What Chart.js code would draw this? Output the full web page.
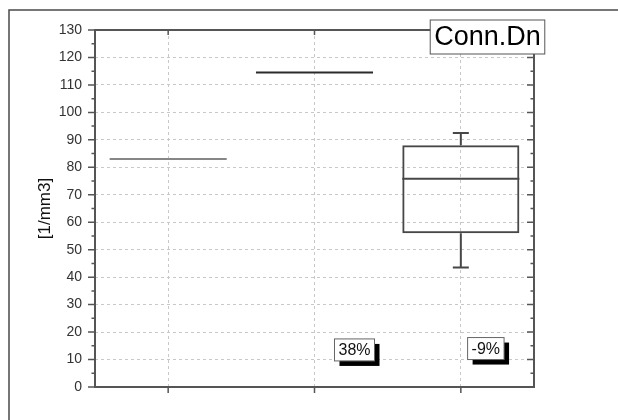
<!DOCTYPE html>
<html>
<head>
<meta charset="utf-8">
<script src="https://cdn.jsdelivr.net/npm/chart.js@4"></script>
<style>
  html, body { margin: 0; padding: 0; background: #fff; }
  #wrap { width: 618px; height: 420px; }
</style>
</head>
<body>
<div id="wrap"><canvas id="boxChart"></canvas></div>
<script>
// data
const categories = ['Group 1', 'Group 2', 'Group 3'];
const whiskerMin = [83, 114.5, 43.5];
const q1 = [83, 114.5, 56];
const median = [83, 114.5, 75.8];
const q3 = [83, 114.5, 88];
const whiskerMax = [83, 114.5, 92.5];
const boxColors = ['#868686', '#2b2b2b', '#474747'];
const yTickValues = [0, 10, 20, 30, 40, 50, 60, 70, 80, 90, 100, 110, 120, 130];
const noteTexts = ['38%', '-9%'];
const noteCategory = [1, 2];
const noteValue = [13.5, 14];
const titleText = 'Conn.Dn';

const FONT = "'Liberation Sans', Arial, sans-serif";

// box plot details: medians, whiskers
const boxPlugin = {
  id: 'boxes',
  afterDatasetsDraw(chart) {
    const ctx = chart.ctx;
    const y = chart.scales.y;
    const meta = chart.getDatasetMeta(0);
    ctx.save();
    ctx.lineWidth = 2;
    meta.data.forEach((bar, i) => {
      ctx.strokeStyle = boxColors[i];
      const left = bar.x - bar.width / 2, right = bar.x + bar.width / 2;
      const ym = y.getPixelForValue(median[i]);
      ctx.beginPath();
      ctx.moveTo(left, ym);
      ctx.lineTo(right, ym);
      ctx.stroke();
      if (whiskerMax[i] > q3[i]) {
        const a = y.getPixelForValue(q3[i]), b = y.getPixelForValue(whiskerMax[i]);
        ctx.beginPath();
        ctx.moveTo(bar.x, a); ctx.lineTo(bar.x, b);
        ctx.moveTo(bar.x - 8, b); ctx.lineTo(bar.x + 8, b);
        ctx.stroke();
      }
      if (whiskerMin[i] < q1[i]) {
        const a = y.getPixelForValue(q1[i]), b = y.getPixelForValue(whiskerMin[i]);
        ctx.beginPath();
        ctx.moveTo(bar.x, a); ctx.lineTo(bar.x, b);
        ctx.moveTo(bar.x - 8, b); ctx.lineTo(bar.x + 8, b);
        ctx.stroke();
      }
    });
    ctx.restore();
  }
};

// frame, tick marks and text boxes
const framePlugin = {
  id: 'frame',
  beforeDraw(chart) {
    const ctx = chart.ctx;
    ctx.save();
    ctx.strokeStyle = '#4a4a4a';
    ctx.lineWidth = 1.5;
    ctx.beginPath();
    ctx.moveTo(9, chart.height);
    ctx.lineTo(9, 10);
    ctx.lineTo(chart.width, 10);
    ctx.stroke();
    ctx.restore();
  },
  afterDraw(chart) {
    const ctx = chart.ctx;
    const a = chart.chartArea;
    const y = chart.scales.y, x = chart.scales.x;
    ctx.save();
    ctx.strokeStyle = '#555';
    ctx.lineWidth = 2;
    ctx.strokeRect(a.left, a.top, a.right - a.left, a.bottom - a.top);
    ctx.lineWidth = 1.5;
    ctx.beginPath();
    yTickValues.forEach((v, i) => {
      const py = y.getPixelForValue(v);
      ctx.moveTo(a.left - 7, py); ctx.lineTo(a.left, py);
      ctx.moveTo(a.right - 7, py); ctx.lineTo(a.right, py);
      if (i < yTickValues.length - 1) {
        const pm = y.getPixelForValue((v + yTickValues[i + 1]) / 2);
        ctx.moveTo(a.left - 3.5, pm); ctx.lineTo(a.left, pm);
        ctx.moveTo(a.right - 3.5, pm); ctx.lineTo(a.right, pm);
      }
    });
    categories.forEach((c, i) => {
      const px = x.getPixelForValue(i);
      ctx.moveTo(px, a.bottom); ctx.lineTo(px, a.bottom + 6);
      ctx.moveTo(px, a.top); ctx.lineTo(px, a.top + 5);
    });
    ctx.stroke();

    // title box
    ctx.font = '27px ' + FONT;
    ctx.textBaseline = 'middle';
    ctx.textAlign = 'center';
    const tw = ctx.measureText(titleText).width;
    const tcx = a.right - 46.5;
    ctx.fillStyle = '#fff';
    ctx.fillRect(tcx - tw / 2 - 4, 20, tw + 8, 34);
    ctx.strokeStyle = '#555';
    ctx.lineWidth = 1;
    ctx.strokeRect(tcx - tw / 2 - 4, 20, tw + 8, 34);
    ctx.fillStyle = '#000';
    ctx.fillText(titleText, tcx, 38);

    // percentage notes
    ctx.font = '16px ' + FONT;
    const offs = [40, 25];
    noteTexts.forEach((t, i) => {
      const cx = x.getPixelForValue(noteCategory[i]) + offs[i];
      const cy = y.getPixelForValue(noteValue[i]);
      const w = ctx.measureText(t).width + 8, h = 22;
      ctx.fillStyle = '#000';
      ctx.fillRect(cx - w / 2 + 5, cy - h / 2 + 5, w, h);
      ctx.fillStyle = '#fff';
      ctx.fillRect(cx - w / 2, cy - h / 2, w, h);
      ctx.strokeStyle = '#666';
      ctx.lineWidth = 1;
      ctx.strokeRect(cx - w / 2, cy - h / 2, w, h);
      ctx.fillStyle = '#111';
      ctx.fillText(t, cx, cy + 1);
    });
    ctx.restore();
  }
};

const ctx = document.getElementById('boxChart').getContext('2d');

new Chart(ctx, {
  type: 'bar',
  data: {
    labels: categories,
    datasets: [{
      label: 'Conn.Dn',
      data: q1.map((v, i) => [v, q3[i]]),
      backgroundColor: 'rgba(255,255,255,0)',
      borderColor: boxColors,
      borderWidth: 2,
      borderSkipped: false,
      barPercentage: 0.8,
      categoryPercentage: 1
    }]
  },
  options: {
    responsive: true,
    maintainAspectRatio: false,
    animation: false,
    layout: { padding: { left: 0, top: 30, right: 84, bottom: 0 } },
    plugins: {
      legend: { display: false },
      tooltip: { enabled: false }
    },
    scales: {
      x: {
        ticks: { display: false },
        grid: { offset: false, color: '#c8c8c8', lineWidth: 1, drawTicks: false },
        border: { display: false, dash: [3, 3] },
        afterFit: s => { s.height = 33; }
      },
      y: {
        min: 0,
        max: 130,
        afterBuildTicks: s => { s.ticks = yTickValues.map(v => ({ value: v })); },
        ticks: { color: '#333', padding: 13, font: { family: FONT, size: 14 } },
        grid: { color: '#c8c8c8', lineWidth: 1, drawTicks: false },
        border: { display: false, dash: [3, 3] },
        title: {
          display: true,
          text: '[1/mm3]',
          color: '#111',
          font: { family: FONT, size: 17 },
          padding: { top: 35, bottom: 0 }
        },
        afterFit: s => { s.width = 95; }
      }
    }
  },
  plugins: [boxPlugin, framePlugin]
});
</script>
</body>
</html>
